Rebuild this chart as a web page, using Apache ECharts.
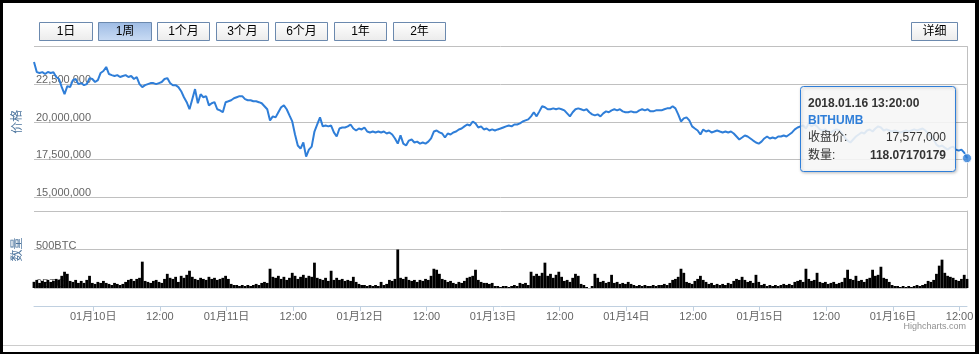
<!DOCTYPE html>
<html><head><meta charset="utf-8">
<script src="https://cdn.jsdelivr.net/npm/echarts@6/dist/echarts.min.js"></script>
<style>html,body{margin:0;padding:0;background:#fff}#c{width:979px;height:354px}</style>
</head><body><div id="c"></div>
<script>
// ---- data ----
const startTime = '2018-01-09 13:20';
const stepMinutes = 30;
const exchangeName = 'BITHUMB';
// closing price, thousand KRW (30-minute samples)
const priceK = [
23970,23300,23240,23300,23170,23310,23240,23290,22970,22840,
22300,21830,22370,22300,22770,22840,22500,22570,22430,22500,
22900,22840,22640,22770,23240,23370,23640,23170,23100,23040,
23100,22970,23040,23100,22970,23040,22840,22970,22500,22300,
22430,22500,22570,22570,22500,22570,22640,22840,22900,22570,
22430,22430,22300,22030,21630,21300,20830,21500,22170,21230,
21830,21630,21700,21090,21230,21300,20830,20760,20630,21300,
21360,21430,21560,21630,21700,21700,21500,21430,21430,21360,
21360,21300,21230,21030,20830,20090,20360,20290,20630,20960,
21090,20830,20420,20020,19150,18420,18210,18620,17680,18150,
18350,19350,19820,20290,19690,19750,19690,19750,19290,19020,
19550,19620,19620,19690,19820,19550,19420,19550,19490,19620,
19350,19290,19350,19290,19350,19290,19350,19220,19290,19150,
18890,18550,19090,18550,18420,18750,18820,18620,18680,18550,
18620,18550,18680,18890,19350,19420,19290,19220,18950,19220,
19150,19290,19350,19490,19550,19690,19820,19750,20020,19890,
19620,19690,19490,19550,19420,19490,19420,19490,19550,19620,
19690,19750,19690,19820,19820,19890,20020,20090,20160,20360,
20630,20360,20690,21030,20960,20830,20830,20890,20830,20890,
20830,20760,20560,20360,20630,20830,20890,20830,20760,20830,
20630,20490,20420,20490,20360,20560,20690,20630,20760,20830,
20760,20830,20690,20630,20630,20690,20630,20630,20760,20830,
20760,20830,20690,20690,20760,20760,20760,20830,20890,20890,
21030,20890,20490,20020,20220,20290,20090,19690,19550,19420,
19150,19490,19350,19420,19290,19350,19420,19350,19290,19350,
19290,19350,19220,19020,18820,18950,19090,19020,18890,18750,
18620,18550,18680,18890,19020,18890,18950,18890,19020,19020,
19090,19020,19150,19290,19490,19620,19690,19750,19550,19890,
19690,19820,19690,19490,19420,19490,19350,19290,19420,19490,
19420,19220,18950,18750,18620,18820,19020,19150,19290,19220,
19420,19490,19350,19550,19690,19620,19420,19490,19420,19350,
19420,19350,19290,19350,19420,19350,19420,19490,19420,19490,
19550,19420,19220,19020,18820,18480,18350,18420,18280,18150,
18280,18350,18150,18080,18150,17950,17577
];
// traded volume, BTC (30-minute samples)
const volumeBTC = [
80,105,66,92,79,105,79,92,118,105,
158,211,184,92,79,105,66,92,66,105,
158,66,53,79,66,92,66,53,39,66,
53,39,53,79,105,118,92,118,132,342,
92,79,66,92,105,79,66,118,184,132,
118,145,79,158,132,171,224,145,118,105,
132,118,105,145,118,132,105,118,132,158,
118,53,39,39,26,39,26,39,26,39,
53,39,66,79,66,250,145,132,158,118,
145,105,132,197,158,118,145,171,132,158,
145,329,132,118,105,132,92,224,105,132,
105,118,92,105,92,145,79,53,39,39,
26,39,26,39,26,79,39,53,105,92,
118,500,132,118,145,105,92,105,79,105,
92,118,105,158,250,237,184,118,105,79,
92,66,53,79,66,92,132,145,158,237,
105,79,66,66,53,66,26,26,13,26,
26,13,26,39,26,66,53,66,39,211,
158,184,158,197,329,158,184,132,171,211,
145,92,105,79,132,184,158,53,39,13,
0,26,184,132,79,92,66,79,171,66,
79,53,66,53,79,53,39,26,39,26,
39,26,26,39,26,39,39,53,39,66,
105,118,145,250,197,79,66,53,92,118,
158,105,79,53,66,39,53,39,53,39,
66,53,92,118,105,145,105,79,92,66,
171,79,39,53,26,39,26,39,26,39,
53,39,53,39,79,92,105,79,250,118,
92,105,197,79,66,79,53,66,79,53,
66,79,132,237,118,105,158,92,105,79,
118,132,237,158,171,276,132,118,79,39,
26,26,13,26,13,26,13,26,39,26,
39,53,92,79,105,184,290,368,197,158,
145,132,105,92,118,171,118.07170179
];
const xTicks = [
'2018-01-10 00:00','2018-01-10 12:00','2018-01-11 00:00','2018-01-11 12:00',
'2018-01-12 00:00','2018-01-12 12:00','2018-01-13 00:00','2018-01-13 12:00',
'2018-01-14 00:00','2018-01-14 12:00','2018-01-15 00:00','2018-01-15 12:00',
'2018-01-16 00:00','2018-01-16 12:00'
];
const rangeButtons = ['1日','1周','1个月','3个月','6个月','1年','2年'];
const selectedButton = '1周';
const detailButton = '详细';

// ---- helpers ----
function parseT(s){const [d,t]=s.split(' ');const [y,m,dd]=d.split('-').map(Number);const [h,mi]=t.split(':').map(Number);return new Date(y,m-1,dd,h,mi).getTime();}
const t0 = parseT(startTime);
const times = priceK.map((_, i) => t0 + i * stepMinutes * 60000);
const tEnd = times[times.length - 1];
const tickVals = xTicks.map(parseT);
const pad = n => String(n).padStart(2, '0');
const FONT = "'Liberation Sans','Noto Sans CJK SC',sans-serif";
const lastIdx = priceK.length - 1;
const lastDate = new Date(tEnd);
const tipTitle = lastDate.getFullYear() + '.' + pad(lastDate.getMonth()+1) + '.' + pad(lastDate.getDate()) + ' ' + pad(lastDate.getHours()) + ':' + pad(lastDate.getMinutes()) + ':00';
const fmtKRW = v => Math.round(v * 1000).toLocaleString('en-US');

const chart = echarts.init(document.getElementById('c'), null, {renderer: 'canvas'});

// buttons
const graphics = [];
const btnBox = [[39,53],[98,53],[157,52],[216,52],[275,52],[334,52],[393,52]];
function addButton(label, x, w, sel) {
  graphics.push({
    type: 'rect', z: 100,
    shape: {x: x + 0.5, y: 22.5, width: w, height: 18},
    style: {
      fill: sel
        ? new echarts.graphic.LinearGradient(0,0,0,1,[{offset:0,color:'#9dbbe4'},{offset:1,color:'#cadcf4'}])
        : new echarts.graphic.LinearGradient(0,0,0,1,[{offset:0,color:'#ffffff'},{offset:1,color:'#ebebeb'}]),
      stroke: '#6b89ae', lineWidth: 1
    }
  });
  graphics.push({
    type: 'text', z: 101,
    style: {text: label, x: x + w / 2 + 0.5, y: 32, align: 'center', verticalAlign: 'middle',
      fontSize: 12, fontFamily: FONT, fill: '#000'}
  });
}
rangeButtons.forEach((b, i) => addButton(b, btnBox[i][0], btnBox[i][1], b === selectedButton));
addButton(detailButton, 911, 46, false);

// black frame & separator
graphics.push({type:'rect', z: 120, shape:{x:0,y:0,width:979,height:3}, style:{fill:'#000'}});
graphics.push({type:'rect', z: 120, shape:{x:0,y:352,width:979,height:2}, style:{fill:'#000'}});
graphics.push({type:'rect', z: 120, shape:{x:0,y:0,width:3,height:354}, style:{fill:'#000'}});
graphics.push({type:'rect', z: 120, shape:{x:975,y:0,width:4,height:354}, style:{fill:'#000'}});
graphics.push({type:'line', z: 10, shape:{x1:3,y1:345.5,x2:975,y2:345.5}, style:{stroke:'#cccccc', lineWidth:1}});

// credits
graphics.push({type:'text', z: 10, style:{text:'Highcharts.com', x: 966, y: 327, align:'right', verticalAlign:'middle', fontSize: 9, fontFamily: FONT, fill:'#909090'}});

// tooltip
graphics.push({
  type: 'rect', z: 110,
  shape: {x: 800.5, y: 86.5, width: 155, height: 85, r: 3},
  style: {fill: 'rgba(255,255,255,0.85)', stroke: '#2f7ed8', lineWidth: 1,
    shadowBlur: 3, shadowColor: 'rgba(0,0,0,0.25)', shadowOffsetX: 1, shadowOffsetY: 1}
});
const tipTexts = [
  {text: tipTitle, x: 808, y: 103.5, align: 'left', fontWeight: 'bold', fill: '#333'},
  {text: exchangeName, x: 808, y: 120.5, align: 'left', fontWeight: 'bold', fill: '#2f7ed8'},
  {text: '收盘价:', x: 808, y: 138, align: 'left', fontWeight: 'normal', fill: '#333'},
  {text: fmtKRW(priceK[lastIdx]), x: 946, y: 138, align: 'right', fontWeight: 'normal', fill: '#333'},
  {text: '数量:', x: 808, y: 156, align: 'left', fontWeight: 'normal', fill: '#333'},
  {text: String(volumeBTC[lastIdx]), x: 946, y: 156, align: 'right', fontWeight: 'bold', fill: '#333'}
];
tipTexts.forEach(t => graphics.push({type:'text', z: 111, style: Object.assign({verticalAlign:'middle', fontSize: 12, fontFamily: FONT}, t)}));

const gridLine = {show: true, lineStyle: {color: '#c0c0c0', width: 1}};
const option = {
  animation: false,
  backgroundColor: '#fff',
  textStyle: {fontFamily: FONT},
  grid: [
    {left: 34, right: 12, top: 46.5, height: 150.5},
    {left: 34, right: 12, top: 211, height: 77}
  ],
  xAxis: [
    {type: 'value', gridIndex: 0, min: t0, max: tEnd, show: false, splitLine: {show: false}},
    {type: 'value', gridIndex: 1, min: t0, max: tEnd, offset: 18,
      axisLine: {show: true, onZero: false, lineStyle: {color: '#c0d0e0', width: 1}},
      axisTick: {show: true, length: 5, lineStyle: {color: '#c0d0e0'}, customValues: tickVals},
      splitLine: {show: false},
      axisLabel: {customValues: tickVals, color: '#666', fontSize: 11, fontFamily: FONT, margin: 5,
        showMinLabel: true, showMaxLabel: true, hideOverlap: false,
        formatter: v => { const d = new Date(v); return (d.getHours() === 0 && d.getMinutes() === 0) ? pad(d.getMonth()+1) + '月' + pad(d.getDate()) + '日' : pad(d.getHours()) + ':' + pad(d.getMinutes()); }}
    }
  ],
  yAxis: [
    {type: 'value', gridIndex: 0, min: 15000, max: 25000, interval: 2500,
      name: '价格', nameLocation: 'middle', nameGap: 10, nameRotate: 90,
      nameTextStyle: {color: '#4d759e', fontSize: 12, fontFamily: FONT},
      axisLine: {show: false}, axisTick: {show: false}, splitLine: gridLine,
      axisLabel: {inside: true, margin: 2, showMaxLabel: false, color: '#666', fontSize: 11, fontFamily: FONT,
        verticalAlign: 'bottom', lineHeight: 8, formatter: v => fmtKRW(v)}
    },
    {type: 'value', gridIndex: 1, min: 0, max: 1000, interval: 500,
      name: '数量', nameLocation: 'middle', nameGap: 10, nameRotate: 90,
      nameTextStyle: {color: '#4d759e', fontSize: 12, fontFamily: FONT},
      axisLine: {show: false}, axisTick: {show: false}, splitLine: gridLine,
      axisLabel: {inside: true, margin: 2, showMaxLabel: false, color: '#666', fontSize: 11, fontFamily: FONT,
        verticalAlign: 'bottom', lineHeight: 8, formatter: v => v + 'BTC'}
    },
    {type: 'value', gridIndex: 0, position: 'right', min: 15000, max: 25000,
      axisLine: {show: true, lineStyle: {color: '#c0c0c0'}}, axisTick: {show: false}, axisLabel: {show: false}, splitLine: {show: false}},
    {type: 'value', gridIndex: 1, position: 'right', min: 0, max: 1000,
      axisLine: {show: true, lineStyle: {color: '#c0c0c0'}}, axisTick: {show: false}, axisLabel: {show: false}, splitLine: {show: false}}
  ],
  series: [
    {type: 'line', xAxisIndex: 0, yAxisIndex: 0, data: times.map((t, i) => [t, priceK[i]]),
      showSymbol: false, symbol: 'none', lineStyle: {color: '#2f7ed8', width: 2}, itemStyle: {color: '#2f7ed8'}, z: 3},
    {type: 'scatter', xAxisIndex: 0, yAxisIndex: 0, data: [[tEnd, priceK[lastIdx]]],
      symbolSize: 9, itemStyle: {color: '#2f7ed8', borderColor: '#fff', borderWidth: 1}, z: 4, clip: false},
    {type: 'bar', xAxisIndex: 1, yAxisIndex: 1, data: times.map((t, i) => [t, volumeBTC[i]]),
      barWidth: 2.8, itemStyle: {color: '#000'}, z: 3}
  ],
  graphic: {elements: graphics}
};
chart.setOption(option);
</script>
</body></html>
